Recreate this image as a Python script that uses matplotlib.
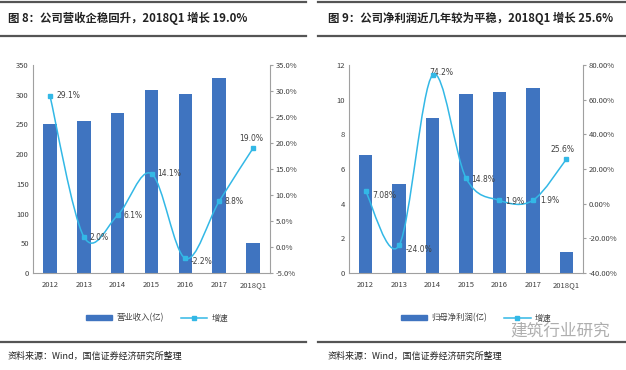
import matplotlib
matplotlib.use('Agg')
import matplotlib.pyplot as plt
from matplotlib.path import Path
from matplotlib.patches import PathPatch, Rectangle
from matplotlib.lines import Line2D
from matplotlib.ticker import FuncFormatter
import numpy as np

plt.rcParams['font.family'] = ['Noto Sans CJK SC', 'DejaVu Sans']

# ---- data ----
years = ['2012', '2013', '2014', '2015', '2016', '2017', '2018Q1']
revenue = [250, 255, 270, 308, 301, 328, 50]
revenue_growth = [29.1, 2.0, 6.1, 14.1, -2.2, 8.8, 19.0]
revenue_labels = ['29.1%', '2.0%', '6.1%', '14.1%', '-2.2%', '8.8%', '19.0%']

profit = [6.8, 5.15, 8.95, 10.3, 10.45, 10.7, 1.2]
profit_growth = [7.08, -24.0, 74.2, 14.8, 1.9, 1.9, 25.6]
profit_labels = ['7.08%', '-24.0%', '74.2%', '14.8%', '1.9%', '1.9%', '25.6%']

BAR = '#3F74C0'
LINE = '#33B8E6'
TXT = '#404040'

W, H = 626, 370
fig = plt.figure(figsize=(W / 100, H / 100), dpi=100)


def px_axes(l, t, r, b):
    return fig.add_axes([l / W, 1 - b / H, (r - l) / W, (b - t) / H])


def smooth_path(xs, ys):
    # Excel-style smoothed line: Catmull-Rom segments as cubic Bezier
    pts = np.column_stack([xs, ys]).astype(float)
    n = len(pts)
    verts = [pts[0]]
    codes = [Path.MOVETO]
    for i in range(n - 1):
        p0 = pts[i - 1] if i > 0 else pts[i]
        p1 = pts[i]
        p2 = pts[i + 1]
        p3 = pts[i + 2] if i + 2 < n else pts[i + 1]
        c1 = p1 + (p2 - p0) / 6.0
        c2 = p2 - (p3 - p1) / 6.0
        verts += [c1, c2, p2]
        codes += [Path.CURVE4] * 3
    return Path(verts, codes)


def panel(l, r, bars, growth, labels, ymax, ystep, y2lim, y2step, fmt, offsets):
    ax = px_axes(l, 65, r, 273)
    x = np.arange(len(years))
    ax.bar(x, bars, width=0.4, color=BAR, zorder=2)
    ax.set_xlim(-0.5, len(years) - 0.5)
    ax.set_ylim(0, ymax)
    ax.set_yticks(np.arange(0, ymax + 0.01, ystep))
    ax.set_xticks(x)
    ax.set_xticklabels(years)
    for s in ['top', 'right']:
        ax.spines[s].set_visible(False)
    ax.spines['left'].set_color('#a0a0a0')
    ax.spines['bottom'].set_color('#a0a0a0')
    ax.tick_params(axis='both', labelsize=5.5, colors=TXT, length=0, pad=3)
    ax.tick_params(axis='x', pad=6)

    ax2 = ax.twinx()
    ax2.set_ylim(*y2lim)
    ax2.set_yticks(np.arange(y2lim[0], y2lim[1] + 0.01, y2step))
    ax2.yaxis.set_major_formatter(FuncFormatter(lambda v, p: fmt.format(v)))
    for s in ['top', 'left', 'bottom']:
        ax2.spines[s].set_visible(False)
    ax2.spines['right'].set_color('#a0a0a0')
    ax2.tick_params(axis='y', labelsize=5.5, colors=TXT, length=2, pad=2)
    ax2.tick_params(axis='y', color='#a0a0a0')

    ax2.add_patch(PathPatch(smooth_path(x, growth), fill=False, edgecolor=LINE, lw=1.1, zorder=3))
    ax2.plot(x, growth, ls='none', marker='s', ms=2.6, color=LINE, zorder=4)
    for xi, yi, lab, (dx, dy, ha) in zip(x, growth, labels, offsets):
        ax2.annotate(lab, (xi, yi), xytext=(dx, dy), textcoords='offset points',
                     fontsize=5.5, color=TXT, ha=ha, va='center', family='DejaVu Sans')
    return ax


panel(33, 270, revenue, revenue_growth, revenue_labels, 350, 50, (-5, 35), 5, '{:.1f}%',
      [(5, 0, 'left'), (4, -1, 'left'), (4, 0, 'left'), (4, 0, 'left'),
       (4, -2, 'left'), (4, 0, 'left'), (-1, 7, 'center')])
panel(349, 583, profit, profit_growth, profit_labels, 12, 2, (-40, 80), 20, '{:.2f}%',
      [(5, -3, 'left'), (5, -3, 'left'), (-2, 2, 'left'), (4, -1, 'left'),
       (4, -1, 'left'), (5, 0, 'left'), (-3, 7, 'center')])

# ---- titles, rules, legends, source ----
def hline(y, x0, x1, lw=1.6, color='#555555'):
    fig.add_artist(Line2D([x0 / W, x1 / W], [1 - y / H, 1 - y / H], color=color, lw=lw))


for x0, x1 in [(0, 306), (318, 626)]:
    hline(1.5, x0, x1)
    hline(36, x0, x1)
    hline(342, x0, x1)

fig.text(8 / W, 1 - 18 / H, '图 8：公司营收企稳回升，2018Q1 增长 19.0%', fontsize=8.2,
         fontweight='bold', color='#222222', va='center', ha='left')
fig.text(328 / W, 1 - 18 / H, '图 9：公司净利润近几年较为平稳，2018Q1 增长 25.6%', fontsize=8.2,
         fontweight='bold', color='#222222', va='center', ha='left')

for x0, name in [(8, '资料来源：Wind，国信证券经济研究所整理'), (328, '资料来源：Wind，国信证券经济研究所整理')]:
    fig.text(x0 / W, 1 - 356 / H, name, fontsize=6.5, color='#222222', va='center', ha='left')

for cx, name in [(157, '营业收入(亿)'), (476, '归母净利润(亿)')]:
    h_bar = Rectangle((0, 0), 1, 1, color=BAR)
    h_line = Line2D([], [], color=LINE, marker='s', ms=2.6, lw=1.1)
    fig.legend([h_bar, h_line], [name, '增速'], loc='center', bbox_to_anchor=(cx / W, 1 - 318 / H),
               ncol=2, frameon=False, fontsize=6, handlelength=3.2, handleheight=0.6,
               columnspacing=2.0, handletextpad=0.5, labelcolor=TXT)

# watermark
fig.text(560 / W, 1 - 331 / H, '建筑行业研究', fontsize=12, color='#9a9a9a', alpha=0.8,
         ha='center', va='center')

fig.savefig('out.png', dpi=100)
